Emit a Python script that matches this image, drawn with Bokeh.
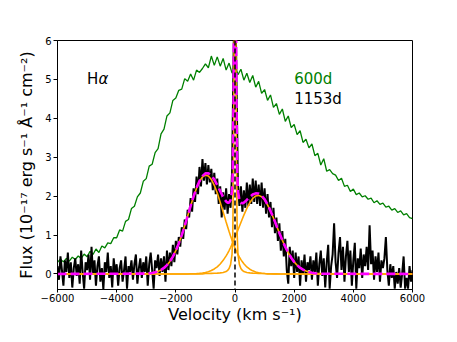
import numpy as np
from bokeh.plotting import figure
from bokeh.models import Range1d, Label, FixedTicker, Span
from bokeh.embed import file_html
from bokeh.resources import INLINE

# ---- data ----
vel_600 = np.arange(-6000, 6001, 100)
flux_600 = [
    0.30, 0.38, 0.31, 0.40, 0.33, 0.43, 0.37, 0.46, 0.40, 0.51,
    0.44, 0.58, 0.50, 0.64, 0.55, 0.72, 0.67, 0.80, 0.78, 0.93,
    0.93, 1.13, 1.10, 1.35, 1.40, 1.68, 1.74, 1.98, 2.08, 2.38,
    2.45, 2.77, 2.82, 3.12, 3.22, 3.60, 3.72, 4.06, 4.14, 4.46,
    4.52, 4.72, 4.75, 5.02, 4.95, 5.14, 4.98, 5.24, 5.18, 5.28,
    5.40, 5.30, 5.60, 5.36, 5.58, 5.34, 5.54, 5.24, 5.42, 5.16,
    5.32, 5.12, 5.26, 4.98, 5.16, 4.92, 5.10, 4.80, 4.95, 4.64,
    4.74, 4.46, 4.60, 4.28, 4.38, 4.10, 4.24, 3.92, 4.06, 3.76,
    3.84, 3.58, 3.68, 3.38, 3.46, 3.24, 3.34, 3.04, 3.10, 2.80,
    2.96, 2.64, 2.68, 2.58, 2.54, 2.40, 2.46, 2.25, 2.28, 2.12,
    2.18, 2.04, 2.08, 1.98, 2.01, 1.92, 1.95, 1.83, 1.88, 1.79,
    1.82, 1.72, 1.74, 1.64, 1.68, 1.58, 1.62, 1.52, 1.55, 1.45,
    1.42,
]

vel_1153 = np.arange(-6000, 6001, 50)
flux_1153 = [
    0.20, -0.15, 0.45, 0.10, -0.30, 0.35, 0.05, 0.55, -0.10, 0.30,
    -0.35, 0.15, 0.40, -0.05, 0.25, -0.25, 0.60, 0.05, -0.38, 0.30,
    0.10, 0.50, -0.15, 0.70, 0.00, 0.35, -0.30, 0.20, 0.45, -0.20,
    0.15, -0.40, 0.30, 0.05, 0.55, -0.10, 0.20, -0.35, 0.40, 0.00,
    0.25, -0.30, 0.15, 0.35, -0.20, 0.10, 0.45, -0.38, 0.20, 0.05,
    0.35, -0.15, 0.25, 0.50, -0.25, 0.15, 0.40, -0.10, 0.30, 0.05,
    0.45, -0.30, 0.25, 0.55, 0.10, -0.38, 0.35, 0.15, 0.50, -0.05,
    0.40, 0.05, 0.45, -0.20, 0.60, 0.10, 0.55, 0.20, 0.75, 0.30,
    0.85, 0.50, 0.95, 0.70, 1.20, 0.90, 1.40, 1.15, 1.65, 1.45,
    1.95, 1.60, 2.20, 1.85, 2.50, 2.05, 2.75, 2.25, 2.95, 2.40,
    2.85, 2.30, 2.80, 2.35, 2.70, 2.15, 2.60, 2.05, 2.45, 1.80,
    2.25, 1.45, 2.10, 1.65, 2.20, 1.55, 2.05, 1.70, 2.60, 5.50,
    8.00, 5.00, 2.30, 1.75, 2.25, 1.60, 2.15, 1.70, 2.35, 1.75,
    2.30, 1.80, 2.45, 1.85, 2.40, 1.80, 2.30, 1.75, 2.35, 1.70,
    2.20, 1.55, 2.05, 1.45, 1.85, 1.20, 1.70, 1.05, 1.45, 0.85,
    1.30, 0.60, 1.10, 0.45, 0.90, 0.10, -0.25, 0.70, 0.20, 0.60,
    -0.10, 0.55, 0.05, 0.45, -0.30, 0.35, 0.00, 0.50, -0.20, 0.30,
    0.10, 0.45, -0.15, 0.35, 0.05, 0.55, -0.30, 0.25, 0.60, -0.05,
    0.40, -0.35, 0.30, 0.75, -0.38, 0.20, 0.50, 1.30, 0.30, -0.10,
    0.55, 0.95, 0.10, 0.70, -0.20, 0.45, 0.85, 0.05, 0.60, -0.30,
    0.35, 0.80, -0.38, 0.40, 0.15, 0.65, -0.10, 0.50, 0.20, 0.70,
    0.10, 1.25, 0.25, 0.60, -0.15, 0.45, 0.05, 0.55, -0.20, 0.35,
    0.15, 0.40, 0.95, 0.10, -0.30, 0.25, -0.10, 0.20, -0.38, 0.05,
    -0.25, 0.15, -0.35, 0.00, 0.45, -0.38, -0.10, -0.38, 0.20, -0.20,
    0.10,
]

model_v = [
    -6000,
    -3000, -2900, -2800, -2700, -2600, -2500, -2400, -2300, -2200, -2100,
    -2000, -1900, -1800, -1700, -1600, -1500, -1400, -1300, -1200, -1100,
    -1000, -900, -800, -700, -600, -500, -400, -300,
    -250, -200, -150, -100, -75, -50, -25, 0, 25, 50, 75, 100, 150, 200, 250,
    300, 400, 500, 600, 700, 800, 900, 1000, 1100, 1200,
    1300, 1400, 1500, 1600, 1700, 1800, 1900, 2000, 2100, 2200,
    2300, 2400, 2500, 2600, 2700, 2800, 2900, 3000,
    6000,
]
comp_blue = [
    0.0,
    0.009, 0.015, 0.026, 0.042, 0.066, 0.103, 0.154, 0.226, 0.322, 0.445,
    0.599, 0.784, 0.998, 1.236, 1.489, 1.745, 1.988, 2.203, 2.375, 2.490,
    2.539, 2.518, 2.428, 2.278, 2.078, 1.844, 1.592, 1.336,
    1.212, 1.091, 0.976, 0.866, 0.814, 0.764, 0.716, 0.669, 0.625, 0.582, 0.541, 0.503, 0.431, 0.367, 0.311,
    0.261, 0.180, 0.121, 0.079, 0.050, 0.031, 0.019, 0.011, 0.006, 0.003,
    0.002, 0.001, 0.0, 0.0, 0.0, 0.0, 0.0, 0.0, 0.0, 0.0,
    0.0, 0.0, 0.0, 0.0, 0.0, 0.0, 0.0, 0.0,
    0.0,
]
comp_red = [
    0.0,
    0.0, 0.0, 0.0, 0.0, 0.0, 0.0, 0.0, 0.0, 0.0, 0.0,
    0.0, 0.0, 0.0, 0.0, 0.0, 0.003, 0.005, 0.009, 0.014, 0.024,
    0.037, 0.058, 0.087, 0.128, 0.183, 0.256, 0.350, 0.465,
    0.531, 0.602, 0.680, 0.762, 0.804, 0.848, 0.893, 0.939, 0.985, 1.032, 1.080, 1.128, 1.225, 1.322, 1.418,
    1.511, 1.684, 1.830, 1.939, 2.004, 2.019, 1.984, 1.900, 1.776, 1.617,
    1.437, 1.245, 1.051, 0.866, 0.695, 0.545, 0.416, 0.310, 0.225, 0.159,
    0.110, 0.074, 0.049, 0.031, 0.019, 0.012, 0.007, 0.004,
    0.0,
]
comp_narrow = [
    0.0,
    0.0, 0.0, 0.0, 0.0, 0.0, 0.0, 0.0, 0.0, 0.0, 0.0,
    0.0, 0.0, 0.0, 0.0, 0.0, 0.0, 0.0, 0.0, 0.0, 0.0,
    0.010, 0.012, 0.015, 0.018, 0.022, 0.028, 0.038, 0.060,
    0.09, 0.14, 0.24, 0.50, 1.0, 2.8, 6.5, 9.0, 6.5, 2.8, 1.0, 0.50, 0.24, 0.14, 0.09,
    0.060, 0.038, 0.028, 0.022, 0.018, 0.015, 0.012, 0.010, 0.0, 0.0,
    0.0, 0.0, 0.0, 0.0, 0.0, 0.0, 0.0, 0.0, 0.0, 0.0,
    0.0, 0.0, 0.0, 0.0, 0.0, 0.0, 0.0, 0.0,
    0.0,
]
x_ticks = [-6000, -4000, -2000, 0, 2000, 4000, 6000]
y_ticks = [0, 1, 2, 3, 4, 5, 6]

assert len(flux_600) == len(vel_600)
assert len(flux_1153) == len(vel_1153)
assert len(model_v) == len(comp_blue) == len(comp_red) == len(comp_narrow)

model_sum = np.array(comp_blue) + np.array(comp_red) + np.array(comp_narrow)

FONT = "DejaVu Sans"

p = figure(width=441, height=326, output_backend="svg", toolbar_location=None,
           x_range=Range1d(-6000, 6000), y_range=Range1d(-0.4, 6),
           min_border_left=57, min_border_right=29, min_border_top=40, min_border_bottom=20)

p.line(vel_600, flux_600, line_color="green", line_width=1.3)
p.line(vel_1153, flux_1153, line_color="black", line_width=2)
p.line(model_v, comp_blue, line_color="orange", line_width=1.6)
p.line(model_v, comp_red, line_color="orange", line_width=1.6)
p.line(model_v, comp_narrow, line_color="orange", line_width=1.6)
p.line(model_v, model_sum, line_color="#ff00ff", line_width=2.6, line_dash="9 4")
p.add_layout(Span(location=0, dimension="height", line_color="black",
                  line_width=1.5, line_dash="5 3"))

p.add_layout(Label(x=-5000, y=5.0, text="H", text_font=FONT, text_font_size="15px",
                   text_color="black", text_baseline="alphabetic"))
p.add_layout(Label(x=-5000, y=5.0, x_offset=11.5, text="α", text_font=FONT,
                   text_font_size="15px", text_font_style="italic",
                   text_color="black", text_baseline="alphabetic"))
p.add_layout(Label(x=2000, y=5.0, text="600d", text_font=FONT, text_font_size="15px",
                   text_color="green", text_baseline="alphabetic"))
p.add_layout(Label(x=2000, y=4.5, text="1153d", text_font=FONT, text_font_size="15px",
                   text_color="black", text_baseline="alphabetic"))

p.xgrid.visible = False
p.ygrid.visible = False
p.outline_line_color = "black"
p.outline_line_width = 1

p.xaxis.ticker = FixedTicker(ticks=x_ticks)
p.yaxis.ticker = FixedTicker(ticks=y_ticks)
p.xaxis.major_label_overrides = {t: (str(t).replace("-", "\u2212")) for t in x_ticks}
p.xaxis.axis_label = "Velocity (km s\u207b\u00b9)"
p.yaxis.axis_label = "Flux (10\u207b\u00b9\u2077 erg s\u207b\u00b9 \u00c5\u207b\u00b9 cm\u207b\u00b2)"
for ax in (p.xaxis, p.yaxis):
    ax.minor_tick_line_color = None
    ax.major_tick_in = 0
    ax.major_tick_out = 4
    ax.axis_line_color = "black"
    ax.major_tick_line_color = "black"
    ax.major_label_text_font = FONT
    ax.major_label_text_font_size = "10px"
    ax.major_label_text_color = "black"
    ax.major_label_standoff = 2
    ax.axis_label_text_font = FONT
    ax.axis_label_text_font_size = "16px"
    ax.axis_label_text_font_style = "normal"
    ax.axis_label_text_color = "black"
    ax.axis_label_standoff = 6
p.xaxis.major_tick_out = 3
p.xaxis.major_label_standoff = 1
p.xaxis.axis_label_standoff = 0

open("out.html", "w").write(file_html(p, INLINE))
